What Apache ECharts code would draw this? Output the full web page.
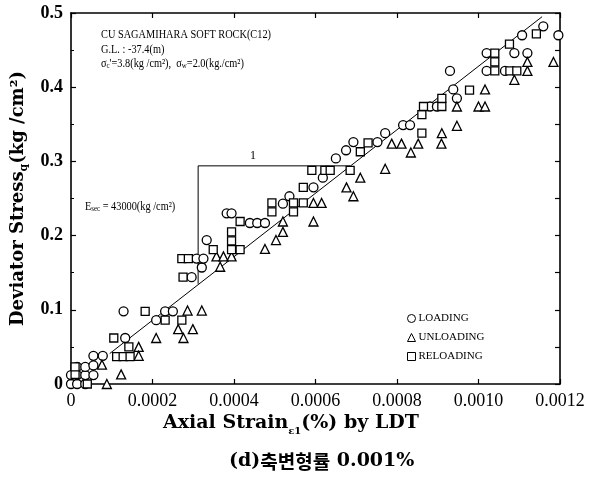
<!DOCTYPE html>
<html><head><meta charset="utf-8">
<script src="https://cdn.jsdelivr.net/npm/echarts@6/dist/echarts.min.js"></script>
<style>html,body{margin:0;padding:0;background:#fff}#c{width:589px;height:488px}</style>
</head><body><div id="c"></div>
<script>
const loading = [
[0,0],[0.000015,0],[0.000035,0],
[0,0.012],[0.000015,0.012],[0.000035,0.012],[0.000055,0.012],
[0.000015,0.023],[0.000035,0.023],[0.000055,0.025],
[0.000055,0.038],[0.000078,0.038],
[0.000133,0.062],[0.000129,0.098],[0.000209,0.086],
[0.000231,0.098],[0.00025,0.098],
[0.000296,0.144],[0.000321,0.157],
[0.000308,0.169],[0.000325,0.169],[0.000333,0.194],
[0.000382,0.230],[0.000394,0.230],
[0.000439,0.217],[0.000457,0.217],[0.000476,0.217],
[0.00052,0.243],[0.000536,0.253],
[0.000595,0.265],[0.000618,0.278],
[0.00065,0.304],[0.000675,0.315],[0.000693,0.326],[0.000752,0.326],
[0.000771,0.338],[0.000815,0.349],[0.000832,0.349],
[0.000881,0.374],[0.000898,0.374],
[0.000938,0.397],[0.000947,0.385],[0.00093,0.422],
[0.00102,0.446],[0.00102,0.422],[0.001065,0.422],
[0.001088,0.446],[0.00112,0.446],
[0.001107,0.470],[0.001159,0.482],[0.001196,0.470]
];
const unloading = [
[0.000088,0],[0.000123,0.013],[0.000076,0.026],
[0.000166,0.05],[0.000166,0.038],
[0.000209,0.062],[0.000276,0.062],
[0.000263,0.074],[0.000299,0.074],
[0.000286,0.099],[0.000321,0.099],
[0.000366,0.158],
[0.000357,0.172],[0.000374,0.172],[0.000394,0.172],
[0.000476,0.182],[0.000503,0.194],[0.00052,0.205],[0.00052,0.219],
[0.000595,0.219],[0.000595,0.244],[0.000615,0.244],
[0.000676,0.265],[0.000693,0.253],[0.00071,0.278],[0.000771,0.290],
[0.000787,0.324],[0.000811,0.324],[0.000834,0.312],[0.000852,0.324],[0.000909,0.324],
[0.00091,0.338],[0.000947,0.348],
[0.000947,0.374],[0.001,0.374],[0.001016,0.374],
[0.001016,0.397],
[0.001088,0.410],[0.00112,0.422],[0.00112,0.434],[0.001184,0.434]
];
const reloading = [
[0.00001,0.013],[0.00001,0.023],[0.00004,0],
[0.000112,0.037],[0.000128,0.037],[0.000145,0.037],[0.000142,0.05],
[0.000105,0.062],[0.000182,0.098],
[0.000231,0.086],[0.000272,0.086],
[0.000275,0.144],
[0.000272,0.169],[0.000288,0.169],
[0.000349,0.181],
[0.000394,0.181],[0.000394,0.193],[0.000394,0.205],[0.000415,0.181],[0.000415,0.219],
[0.000493,0.244],[0.000493,0.232],[0.000546,0.244],[0.000546,0.232],[0.00057,0.244],
[0.00057,0.265],
[0.000591,0.288],[0.000623,0.288],[0.000636,0.288],[0.000685,0.288],
[0.00071,0.313],[0.000729,0.325],
[0.000861,0.338],[0.000861,0.363],[0.000865,0.374],
[0.00091,0.374],[0.00091,0.385],
[0.000978,0.396],
[0.00104,0.446],[0.00104,0.434],[0.00104,0.422],
[0.001077,0.422],[0.001094,0.422],
[0.001076,0.458],[0.001142,0.472]
];
const secantLine = [[0.000095,0.041],[0.001156,0.495]];
const slopeTriangle = [[0.000312,0.135],[0.000312,0.294],[0.000685,0.294]];
const seriesNames = ['LOADING','UNLOADING','RELOADING'];

const chart = echarts.init(document.getElementById('c'), null, {renderer:'canvas'});
const serif = 'Liberation Serif';
const mk = (name, data, symbol, size) => ({
  name, type:'scatter', data, symbol, symbolSize:size, z:5,
  itemStyle:{color:'#fff', borderColor:'#000', borderWidth:1.3, opacity:1}
});
const axisBase = {
  type:'value', splitLine:{show:false},
  axisLine:{show:true, onZero:false, lineStyle:{color:'#000', width:1.6}},
  axisTick:{show:true, inside:true, length:5, lineStyle:{color:'#000', width:1.2}}
};
chart.setOption({
  animation:false,
  backgroundColor:'#fff',
  grid:{left:71, top:13, width:489, height:371, outerBoundsMode:'none'},
  legend:{
    data:seriesNames, orient:'vertical', left:402, top:308,
    itemWidth:8, itemHeight:8, itemGap:8,
    itemStyle:{borderWidth:1},
    textStyle:{fontFamily:serif, fontSize:11, color:'#000', padding:[0,0,0,-2]}
  },
  xAxis:[
    Object.assign({}, axisBase, {position:'bottom', min:0, max:0.0012, interval:0.0002,
      axisLabel:{fontFamily:serif, fontSize:18, color:'#000', margin:8,
        formatter:v => Math.abs(v)<1e-12 ? '0' : v.toFixed(4)}}),
    Object.assign({}, axisBase, {position:'top', min:0, max:0.0012, interval:0.0002,
      axisLabel:{show:false}})
  ],
  yAxis:[
    Object.assign({}, axisBase, {position:'left', min:0, max:0.5, interval:0.1,
      minorTick:{show:true, splitNumber:2, length:3, lineStyle:{color:'#000'}},
      axisLabel:{fontFamily:serif, fontSize:18, fontWeight:'bold', color:'#000', margin:8,
        formatter:v => Math.abs(v)<1e-12 ? '0' : v.toFixed(1)},
      name:'{t|Deviator Stress}{s|q}{t|(kg /cm²)}', nameLocation:'middle', nameGap:33,
      nameTextStyle:{rich:{
        t:{fontFamily:'DejaVu Serif', fontWeight:'bold', fontSize:18, color:'#000', lineHeight:22},
        s:{fontFamily:'DejaVu Serif', fontWeight:'bold', fontSize:11, color:'#000', lineHeight:22, verticalAlign:'bottom'}
      }}}),
    Object.assign({}, axisBase, {position:'right', min:0, max:0.5, interval:0.05,
      axisLabel:{show:false}})
  ],
  series:[
    {name:'secant', type:'line', data:secantLine, showSymbol:false, symbol:'none', z:2,
      lineStyle:{color:'#000', width:1}},
    {name:'slope', type:'line', data:slopeTriangle, showSymbol:false, symbol:'none', z:2,
      lineStyle:{color:'#000', width:1}},
    mk('LOADING', loading, 'circle', 9),
    mk('UNLOADING', unloading, 'triangle', 9),
    mk('RELOADING', reloading, 'rect', 8)
  ],
  graphic:[
    {type:'text', left:101, top:29, scaleX:0.86, style:{text:'CU SAGAMIHARA SOFT ROCK(C12)', fontFamily:serif, fontSize:12, fill:'#000'}},
    {type:'text', left:101, top:44, scaleX:0.86, style:{text:'G.L. : -37.4(m)', fontFamily:serif, fontSize:12, fill:'#000'}},
    {type:'text', left:101, top:58, scaleX:0.86, style:{
      text:"{t|σ}{s|c}{t|'=3.8(kg /cm²),  σ}{s|w}{t|=2.0(kg./cm²)}",
      rich:{t:{fontFamily:serif, fontSize:12, fill:'#000'}, s:{fontFamily:serif, fontSize:8, fill:'#000', verticalAlign:'bottom'}}}},
    {type:'text', left:85, top:201, scaleX:0.86, style:{
      text:'{t|E}{s|sec}{t| = 43000(kg /cm²)}',
      rich:{t:{fontFamily:serif, fontSize:12, fill:'#000'}, s:{fontFamily:serif, fontSize:8, fill:'#000', verticalAlign:'bottom'}}}},
    {type:'text', left:250, top:150, style:{text:'1', fontFamily:serif, fontSize:12, fill:'#000'}},
    {type:'text', left:163, top:414, style:{
      text:'{t|Axial Strain}{s|ε1}{t|(%) by LDT}',
      rich:{t:{fontFamily:'DejaVu Serif', fontWeight:'bold', fontSize:19, fill:'#000', lineHeight:25},
            s:{fontFamily:'DejaVu Serif', fontWeight:'bold', fontSize:10, fill:'#000', lineHeight:25, verticalAlign:'bottom'}}}},
    {type:'text', left:229, top:452, style:{
      text:'{t|(d)}{k|축변형률}{t| 0.001%}',
      rich:{t:{fontFamily:'DejaVu Serif', fontWeight:'bold', fontSize:19, fill:'#000'},
            k:{fontFamily:'Noto Sans CJK KR', fontWeight:'bold', fontSize:19, fill:'#000'}}}}
  ]
});
</script></body></html>
